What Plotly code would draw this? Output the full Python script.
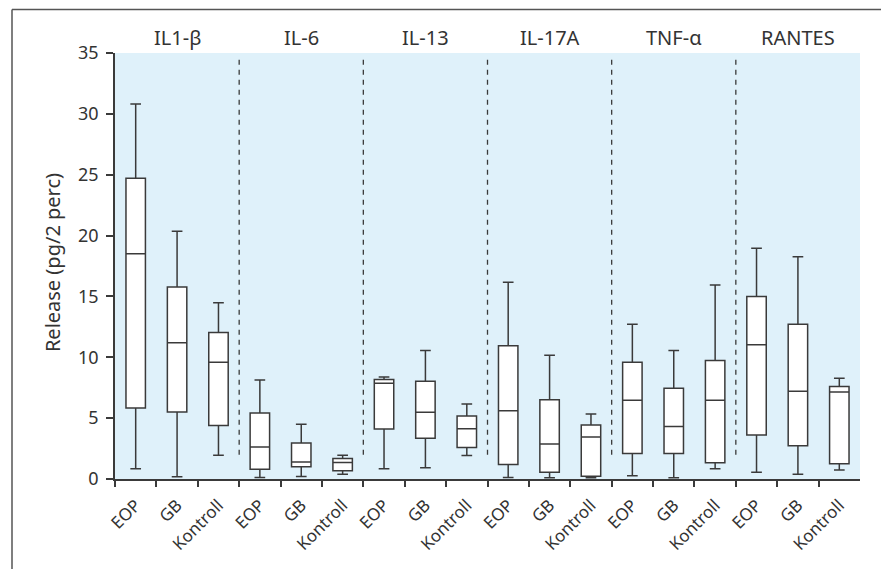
import plotly.graph_objects as go

groups = ["IL1-β", "IL-6", "IL-13", "IL-17A", "TNF-α", "RANTES"]
subgroups = ["EOP", "GB", "Kontroll"]

# per-box statistics, order: group by group, EOP / GB / Kontroll
lower = [0.84, 0.18, 1.96,  0.12, 0.20, 0.40,  0.84, 0.92, 1.94,
         0.12, 0.10, 0.10,  0.26, 0.10, 0.84,  0.56, 0.40, 0.73]
q1 = [5.83, 5.50, 4.40,  0.81, 1.00, 0.67,  4.10, 3.34, 2.59,
      1.19, 0.56, 0.23,  2.10, 2.10, 1.33,  3.61, 2.73, 1.25]
median = [18.5, 11.2, 9.59,  2.62, 1.39, 1.36,  7.86, 5.48, 4.13,
          5.61, 2.87, 3.45,  6.46, 4.32, 6.46,  11.02, 7.20, 7.15]
q3 = [24.7, 15.77, 12.04,  5.42, 2.95, 1.69,  8.17, 8.03, 5.17,
      10.94, 6.52, 4.43,  9.59, 7.45, 9.73,  15.0, 12.72, 7.59]
upper = [30.8, 20.35, 14.48,  8.14, 4.49, 1.96,  8.38, 10.56, 6.16,
         16.16, 10.17, 5.34,  12.72, 10.56, 15.94,  18.96, 18.27, 8.28]

y_ticks = [0, 5, 10, 15, 20, 25, 30, 35]
y_title = "Release (pg/2 perc)"

# page is rendered with an 8px body margin; compensate in the figure margins
OFF = 8
W, H = 889, 569
L, T = 115 - OFF, 53 - OFF
R = 889 - 860 + OFF
B = int(569 - 478.5) + OFF
PX0, PX1 = 115, 860
PY0, PY1 = 478.5, 53.3

n = len(groups) * len(subgroups)
centers = [i + 0.5 for i in range(n)]
labels = [s for g in groups for s in subgroups]

LINE = "#3a3a3a"
TXT = "#333333"
FONT = "Noto Sans"

def px_x(p):
    return (p - PX0) / (PX1 - PX0)

def px_y(p):
    return (PY0 - p) / (PY0 - PY1)

fig = go.Figure()
fig.add_trace(go.Box(
    x=centers, q1=q1, median=median, q3=q3,
    lowerfence=lower, upperfence=upper,
    width=0.47, whiskerwidth=0.55,
    fillcolor="white", line=dict(color=LINE, width=1.5),
    boxpoints=False, showlegend=False, hoverinfo="skip",
))

shapes = []
for k in range(1, len(groups)):
    xb = k * len(subgroups)
    shapes.append(dict(type="line", xref="x", yref="y", x0=xb, x1=xb,
                       y0=2.0, y1=34.6,
                       line=dict(color=LINE, width=1.3, dash="5px,5px")))

# outer frame (top and left edges visible)
shapes.append(dict(type="line", xref="paper", yref="paper",
                   x0=px_x(12), x1=px_x(W + 20), y0=px_y(10), y1=px_y(10),
                   line=dict(color="#555555", width=1.5)))
shapes.append(dict(type="line", xref="paper", yref="paper",
                   x0=px_x(12), x1=px_x(12), y0=px_y(10), y1=px_y(H + 20),
                   line=dict(color="#555555", width=1.5)))

annotations = []
for gi, g in enumerate(groups):
    annotations.append(dict(
        x=(gi * len(subgroups) + len(subgroups) / 2) / n, y=px_y(38),
        xref="paper", yref="paper", text=g, showarrow=False,
        xanchor="center", yanchor="middle",
        font=dict(family=FONT, size=20, color=TXT)))
annotations.append(dict(
    x=px_x(52), y=px_y(262), xref="paper", yref="paper",
    text=y_title, textangle=-90, showarrow=False,
    xanchor="center", yanchor="middle",
    font=dict(family=FONT, size=20, color=TXT)))

fig.update_layout(
    width=W, height=H,
    margin=dict(l=L, r=R, t=T, b=B, autoexpand=False),
    paper_bgcolor="white", plot_bgcolor="#dff1fa",
    font=dict(family=FONT, size=17, color=TXT),
    shapes=shapes, annotations=annotations,
    xaxis=dict(
        range=[0, n], tickmode="array", tickvals=centers, ticktext=labels,
        tickangle=-45, ticks="outside", ticklen=8, tickcolor="rgba(0,0,0,0)",
        showline=True, linecolor=LINE, linewidth=1.5,
        showgrid=False, zeroline=False,
        tickfont=dict(family=FONT, size=17, color=TXT),
        minor=dict(tickmode="array", tickvals=list(range(n)),
                   ticks="outside", ticklen=6, tickcolor=LINE, tickwidth=1.5,
                   showgrid=False),
    ),
    yaxis=dict(
        range=[0, 35], tickmode="array", tickvals=y_ticks,
        ticks="outside", ticklen=7, tickcolor=LINE, tickwidth=1.5,
        showline=True, linecolor=LINE, linewidth=1.5,
        showgrid=False, zeroline=False, ticklabelstandoff=4,
        tickfont=dict(family=FONT, size=18, color=TXT),
    ),
)

fig.write_html("out.html")
